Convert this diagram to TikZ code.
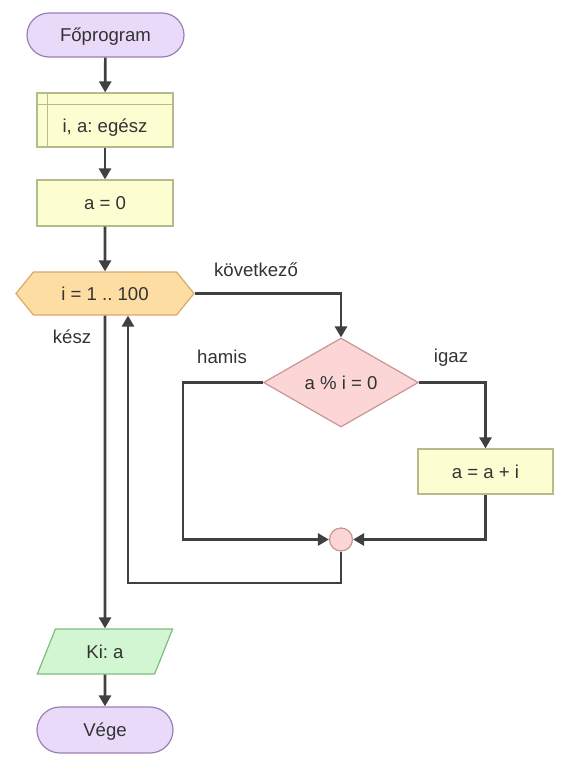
\documentclass[tikz,border=0pt]{standalone}
\usepackage{fontspec}
\setmainfont{Liberation Sans}
\usetikzlibrary{arrows.meta,shapes.geometric,shapes.symbols,shapes.misc}
\frenchspacing
\definecolor{txt}{HTML}{333333}
\definecolor{ln}{HTML}{404040}
\definecolor{termfill}{HTML}{EADAFA}
\definecolor{termdraw}{HTML}{9A80B6}
\definecolor{procfill}{HTML}{FDFDD2}
\definecolor{procdraw}{HTML}{B6BA8C}
\definecolor{loopfill}{HTML}{FDDDA2}
\definecolor{loopdraw}{HTML}{D8AA68}
\definecolor{condfill}{HTML}{FCD6D6}
\definecolor{conddraw}{HTML}{C99494}
\definecolor{iofill}{HTML}{D2F6D2}
\definecolor{iodraw}{HTML}{80BC80}
\tikzset{
  x=1pt, y=-1pt,
  every node/.style={font=\fontsize{18.6}{22}\selectfont, text=txt},
  ctr/.style={text height=13.3pt, text depth=0pt},
  term/.style={ctr, draw=termdraw, fill=termfill, line width=1.2pt, rounded rectangle, minimum height=44pt, inner sep=0pt},
  proc/.style={ctr, draw=procdraw, fill=procfill, line width=1.2pt, rectangle, minimum width=136pt, inner sep=0pt},
  loopbox/.style={ctr, draw=loopdraw, fill=loopfill, line width=1.2pt, signal, signal to=east and west, signal pointer angle=102, minimum width=178pt, minimum height=43pt, inner sep=0pt},
  condbox/.style={ctr, draw=conddraw, fill=condfill, line width=1.2pt, diamond, minimum width=155pt, minimum height=89pt, inner sep=0pt},
  iobox/.style={ctr, draw=iodraw, fill=iofill, line width=1.2pt, trapezium, trapezium left angle=63, trapezium right angle=117, trapezium stretches=true, minimum width=136pt, minimum height=45pt, inner sep=0pt},
  joinbox/.style={draw=conddraw, fill=condfill, line width=1.2pt, circle, minimum size=23pt, inner sep=0pt},
  conn/.style={draw=ln, line width=2.7pt, -{Triangle[length=11pt,width=12pt]}},
  lbl/.style={font=\fontsize{18.6}{22}\selectfont, text=txt}
}
\begin{document}
\begin{tikzpicture}
\useasboundingbox (0,0) rectangle (566,766);
\node[term, minimum width=157pt] (start) at (105.5,35) {Főprogram};
\node[proc, minimum height=54pt] (decl) at (105,120) {};
\draw[draw=procdraw, line width=1.2pt] ([xshift=11pt]decl.north west) -- ([xshift=11pt]decl.south west);
\draw[draw=procdraw, line width=1.2pt] ([yshift=-12pt]decl.north west) -- ([yshift=-12pt]decl.north east);
\node[ctr, inner sep=0pt] (decltext) at (105,126) {i, a: egész};
\node[proc, minimum height=46pt] (init) at (105,203) {a = 0};
\node[loopbox] (loop) at (105,293.5) {i = 1 .. 100};
\node[condbox] (cond) at (341,382.5) {a \% i = 0};
\node[proc, minimum width=135pt, minimum height=45pt] (add) at (485.5,471.5) {a = a + i};
\node[joinbox] (join) at (341,539.5) {};
\node[iobox] (out) at (105,651.5) {Ki: a};
\node[term, minimum width=136pt, minimum height=46pt] (end) at (105,730) {Vége};
\coordinate (back) at (128,583);
\coordinate (hamisx) at (183,382.5);

\draw[conn] (start) -- (decl);
\draw[conn] (decl) -- (init);
\draw[conn] (init) -- (loop);
\draw[conn] (loop.east) -| (cond.north);
\draw[conn] (cond.east) -| (add.north);
\draw[conn] (cond.west) -- (hamisx) |- (join.west);
\draw[conn] (add.south) |- (join.east);
\draw[conn] (join.south) |- (back) -- (back |- loop.south);
\draw[conn] (loop.south) -- (out.north);
\draw[conn] (out) -- (end);

\node[lbl] (lkov) at (256,270) {következő};
\node[lbl] (lham) at (222,357) {hamis};
\node[lbl] (ligaz) at (451,358) {igaz};
\node[lbl] (lkesz) at (72,337) {kész};
\end{tikzpicture}
\end{document}
